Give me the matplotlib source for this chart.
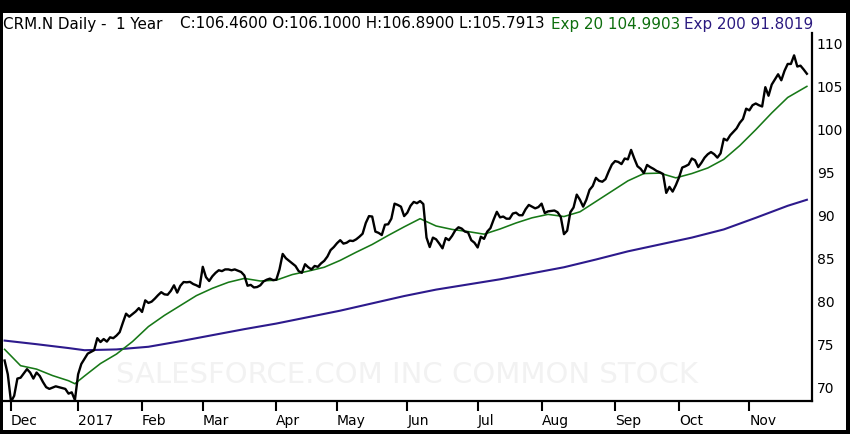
import matplotlib
matplotlib.use("Agg")
import matplotlib.pyplot as plt
from matplotlib.patches import Rectangle
import pandas as pd
import numpy as np

#%% Data
holidays = ["2016-12-26", "2017-01-02", "2017-01-16", "2017-02-20", "2017-04-14",
            "2017-05-29", "2017-07-04", "2017-09-04", "2017-11-23"]
dates = pd.bdate_range("2016-11-29", "2017-11-28", freq="C", holidays=holidays)

close = [
    73.1, 71.5, 68.3, 69.0, 71.0, 71.1, 71.6, 72.1, 71.7, 71.0,
    71.7, 71.3, 70.6, 70.0, 69.8, 69.95, 70.1, 70.0, 69.9, 69.8,
    69.25, 69.4, 68.5, 71.5, 72.7, 73.3, 73.9, 74.1, 74.3, 75.7,
    75.25, 75.6, 75.3, 75.8, 75.7, 76.0, 76.4, 77.5, 78.55, 78.2,
    78.5, 78.8, 79.2, 78.75, 80.1, 79.8, 79.95, 80.3, 80.7, 81.05,
    80.8, 80.75, 81.2, 81.85, 81.0, 81.8, 82.23, 82.2, 82.25, 82.0,
    81.85, 81.65, 84.0, 82.8, 82.35, 82.9, 83.3, 83.6, 83.5, 83.7,
    83.7, 83.6, 83.7, 83.55, 83.4, 83.0, 81.8, 81.9, 81.6, 81.65,
    81.85, 82.3, 82.5, 82.63, 82.45, 82.5, 83.7, 85.5, 85.0, 84.7,
    84.4, 84.1, 83.5, 83.3, 84.3, 83.95, 83.7, 84.1, 84.0, 84.4,
    84.7, 85.2, 85.95, 86.3, 86.75, 87.1, 86.7, 86.8, 87.05, 87.0,
    87.2, 87.5, 87.85, 89.1, 89.9, 89.85, 88.1, 87.95, 87.7, 88.9,
    88.95, 89.6, 91.35, 91.2, 91.0, 89.9, 90.3, 91.1, 91.55, 91.4,
    91.65, 91.3, 87.4, 86.3, 87.4, 87.2, 86.7, 86.15, 87.35, 87.1,
    87.6, 88.25, 88.6, 88.45, 88.1, 88.0, 87.1, 86.8, 86.25, 87.5,
    87.25, 88.1, 88.5, 89.5, 90.4, 89.75, 89.85, 89.6, 89.6, 90.2,
    90.3, 90.0, 90.0, 90.7, 91.2, 91.0, 90.8, 90.95, 91.35, 90.25,
    90.45, 90.5, 90.55, 90.35, 89.8, 87.8, 88.2, 90.35, 90.9, 92.4,
    91.8, 91.0, 91.8, 92.95, 93.4, 94.35, 94.0, 93.9, 94.2, 95.1,
    95.9, 96.3, 96.2, 95.95, 96.6, 96.5, 97.6, 96.6, 95.7, 95.4,
    94.9, 95.85, 95.6, 95.4, 95.15, 95.0, 94.8, 92.6, 93.3, 92.75,
    93.5, 94.4, 95.55, 95.7, 95.9, 96.6, 96.4, 95.6, 96.1, 96.7,
    97.1, 97.35, 97.1, 96.7, 97.2, 98.9, 98.7, 99.3, 99.7, 100.1,
    100.75, 101.2, 102.4, 102.2, 102.8, 103.0, 102.8, 102.65, 104.9, 103.9,
    105.2, 105.8, 106.4, 105.7, 106.8, 107.6, 107.6, 108.6, 107.3, 107.4,
    106.95, 106.46,
]

# sampled trading-day positions of the moving averages
ema20_idx = [0, 5, 10, 15, 20, 22, 25, 30, 35, 40, 45, 50, 55, 60, 65, 70, 75, 80,
             85, 90, 95, 100, 105, 110, 115, 120, 125, 130, 135, 140, 145, 150, 155,
             160, 165, 170, 175, 180, 185, 190, 195, 200, 205, 210, 215, 220, 225,
             230, 235, 240, 245, 251]
ema20 = [74.4, 72.5, 72.1, 71.35, 70.75, 70.4, 71.3, 72.75, 73.85, 75.3, 77.05,
         78.35, 79.5, 80.65, 81.5, 82.2, 82.65, 82.35, 82.45, 83.1, 83.5, 83.95,
         84.75, 85.7, 86.6, 87.65, 88.65, 89.6, 88.75, 88.35, 88.1, 87.8, 88.4,
         89.1, 89.7, 90.1, 89.85, 90.4, 91.6, 92.8, 94.0, 94.85, 94.9, 94.35,
         94.85, 95.5, 96.5, 98.1, 99.95, 101.9, 103.7, 104.99]

ema200_idx = [0, 10, 20, 25, 35, 45, 55, 65, 75, 85, 95, 105, 115, 125, 135, 145,
              155, 165, 175, 185, 195, 205, 215, 225, 235, 245, 251]
ema200 = [75.42, 75.0, 74.55, 74.3, 74.39, 74.7, 75.35, 76.05, 76.75, 77.4, 78.15,
          78.9, 79.75, 80.6, 81.35, 81.95, 82.55, 83.25, 83.95, 84.85, 85.8, 86.6,
          87.4, 88.35, 89.7, 91.1, 91.8]

y_ticks = [70, 75, 80, 85, 90, 95, 100, 105, 110]

title_parts = [
    ("CRM.N Daily -  1 Year", "black"),
    ("C:106.4600 O:106.1000 H:106.8900 L:105.7913", "black"),
    ("Exp 20 104.9903", "#0d6e0d"),
    ("Exp 200 91.8019", "#2b1a80"),
]
watermark = "SALESFORCE.COM INC COMMON STOCK"

#%% Plotting
W, H = 850, 434
fig = plt.figure(figsize=(W / 100, H / 100), dpi=100, facecolor="black")
fig.patches.append(Rectangle((3 / W, 4 / H), 843 / W, 417 / H, transform=fig.transFigure,
                             facecolor="white", edgecolor="none", zorder=-5))

ax = fig.add_axes([3 / W, 33.5 / H, 809 / W, 367.5 / H])
ax.set_facecolor("white")

x = np.arange(len(close))
ax.plot(ema200_idx, ema200, color="#2d1a8c", lw=1.5, zorder=3)
ax.plot(ema20_idx, ema20, color="#177817", lw=1.15, zorder=4)
ax.plot(x, close, color="black", lw=1.7, zorder=5)

ax.text(0.5, 0.07, watermark, transform=ax.transAxes, ha="center", va="center",
        fontsize=21, color="#f2f2f2", zorder=1)

ax.set_xlim(-0.5, 252.6)
ax.set_ylim(68.45, 111.2)

# month ticks at first trading day of each month
month_pos = [i for i in range(1, len(dates)) if dates[i].month != dates[i - 1].month]
month_lab = [dates[i].strftime("%Y") if dates[i].month == 1 else dates[i].strftime("%b")
             for i in month_pos]
ax.set_xticks(month_pos)
ax.set_xticklabels(month_lab, ha="left")
ax.tick_params(axis="x", direction="out", length=7, width=1.5, pad=2.5, labelsize=10)

ax.yaxis.tick_right()
ax.set_yticks(y_ticks)
ax.set_yticklabels([str(v) for v in y_ticks])
ax.tick_params(axis="y", length=0, pad=3.5, labelsize=10)

for side in ["top", "left"]:
    ax.spines[side].set_visible(False)
for side in ["bottom", "right"]:
    ax.spines[side].set_linewidth(1.6)

title_x = [3, 180, 551, 684]
for (txt, col), px in zip(title_parts, title_x):
    fig.text(px / W, 1 - 24 / H, txt, color=col, fontsize=10.9, ha="left", va="center")

fig.savefig("out.png", dpi=100, facecolor="black")
